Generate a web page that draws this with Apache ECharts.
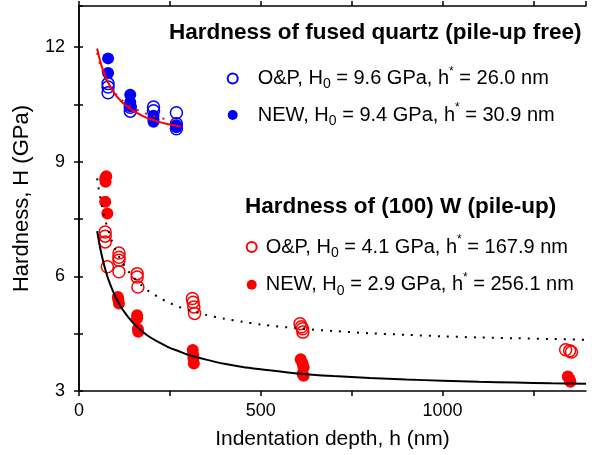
<!DOCTYPE html>
<html style="height: 100%">
<head>
    <meta charset="UTF-8">
    <title>Hardness vs indentation depth</title>
    <script src="https://cdn.jsdelivr.net/npm/echarts/dist/echarts.min.js"></script>
</head>
<body style="height: 100%; margin: 0">
    <div id="main" style="width: 592px; height: 455px"></div>
    <script type="text/javascript">
        // tick labels
        var xLabels = [0, 500, 1000];
        var yLabels = [3, 6, 9, 12];

        // measured points [depth nm, hardness GPa]
        var quartzOP = [
            [80, 11.04], [80, 10.95], [80, 10.80],
            [141, 10.42], [141, 10.32],
            [205, 10.43], [205, 10.33],
            [268, 10.28], [268, 9.99], [268, 9.86]
        ];
        var quartzNEW = [
            [80, 11.70], [80, 11.32],
            [141, 10.75], [141, 10.55], [141, 10.45],
            [205, 10.20], [205, 10.10], [205, 10.04],
            [268, 9.95], [268, 9.90]
        ];
        var tungstenOP = [
            [72, 7.16], [72, 7.05], [72, 6.90], [78, 6.25],
            [110, 6.61], [110, 6.50], [110, 6.42], [110, 6.12],
            [160, 6.07], [160, 5.98], [162, 5.72],
            [312, 5.42], [314, 5.32], [316, 5.20], [318, 5.03],
            [608, 4.76], [612, 4.68], [615, 4.63], [616, 4.54],
            [1339, 4.08], [1350, 4.05], [1355, 4.02]
        ];
        var tungstenNEW = [
            [75, 8.62], [72, 8.55], [73, 8.47], [72, 7.95], [78, 7.64],
            [107, 5.46], [108, 5.40], [110, 5.29],
            [160, 4.98], [160, 4.90], [162, 4.62], [163, 4.55],
            [313, 4.07], [314, 3.95], [315, 3.85], [316, 3.72],
            [610, 3.83], [615, 3.72], [618, 3.62], [615, 3.45], [618, 3.40],
            [1345, 3.38], [1350, 3.30], [1352, 3.24]
        ];

        // fitted curves
        var fitDepthQ = [50, 55, 60, 65, 70, 75, 80, 90, 100, 110, 120, 130, 140, 150, 160, 170, 180, 190, 200, 220, 240, 260, 280];
        var fitQuartzNEW = [11.96, 11.75, 11.57, 11.42, 11.29, 11.17, 11.07, 10.90, 10.75, 10.64, 10.54, 10.46, 10.39, 10.32, 10.27, 10.22, 10.17, 10.13, 10.10, 10.04, 9.99, 9.95, 9.91];
        var fitQuartzOP = [11.84, 11.65, 11.49, 11.36, 11.24, 11.14, 11.05, 10.90, 10.78, 10.68, 10.59, 10.52, 10.45, 10.40, 10.35, 10.31, 10.27, 10.24, 10.21, 10.15, 10.11, 10.07, 10.04];
        var fitDepthW = [50, 55, 60, 65, 70, 75, 80, 90, 100, 110, 120, 130, 140, 150, 160, 180, 200, 225, 250, 275, 300, 350, 400, 450, 500, 600, 700, 800, 900, 1000, 1100, 1200, 1300, 1395];
        var fitTungstenNEW = [7.18, 6.90, 6.66, 6.45, 6.26, 6.09, 5.94, 5.69, 5.47, 5.29, 5.13, 5.00, 4.88, 4.77, 4.68, 4.51, 4.38, 4.25, 4.13, 4.04, 3.95, 3.82, 3.71, 3.63, 3.57, 3.46, 3.39, 3.34, 3.30, 3.27, 3.24, 3.22, 3.20, 3.19];
        var fitTungstenOP = [8.56, 8.25, 7.99, 7.76, 7.56, 7.38, 7.22, 6.94, 6.71, 6.52, 6.35, 6.21, 6.08, 5.97, 5.87, 5.70, 5.56, 5.42, 5.30, 5.20, 5.12, 4.99, 4.89, 4.81, 4.74, 4.64, 4.57, 4.51, 4.47, 4.43, 4.40, 4.38, 4.36, 4.34];

        var legendText = {
            qOP: ['O&P, H', '0', ' = 9.6 GPa, h', '*', ' = 26.0 nm'],
            qNEW: ['NEW, H', '0', ' = 9.4 GPa, h', '*', ' = 30.9 nm'],
            wOP: ['O&P, H', '0', ' = 4.1 GPa, h', '*', ' = 167.9 nm'],
            wNEW: ['NEW, H', '0', ' = 2.9 GPa, h', '*', ' = 256.1 nm']
        };

        function zip(xs, ys) {
            return xs.map(function (x, i) { return [x, ys[i]]; });
        }

        var FONT = '"Liberation Sans", Arial, Helvetica, sans-serif';

        function legendFormatter(pad) {
            return function (name) {
                var t = legendText[name];
                return '{' + pad + '|' + t[0] + '}{sub|' + t[1] + '}{a|' + t[2] + '}{sup|' + t[3] + '}{a|' + t[4] + '}';
            };
        }
        var legendRich = {
            a: { fontSize: 20, fontFamily: FONT, color: '#000', lineHeight: 26 },
            pq: { fontSize: 20, fontFamily: FONT, color: '#000', lineHeight: 26, padding: [0, 0, 0, 15] },
            pw: { fontSize: 20, fontFamily: FONT, color: '#000', lineHeight: 26, padding: [0, 0, 0, 4] },
            sub: { fontSize: 14, fontFamily: FONT, color: '#000', verticalAlign: 'bottom' },
            sup: { fontSize: 12, fontFamily: FONT, color: '#000', verticalAlign: 'top' }
        };

        var chartDom = document.getElementById('main');
        var myChart = echarts.init(chartDom);
        var option;

        var axisLineStyle = { color: '#000', width: 1.5 };

        function scatter(name, data, color, open) {
            return {
                name: name,
                type: 'scatter',
                data: data,
                symbol: 'circle',
                symbolSize: 12,
                itemStyle: open
                    ? { color: 'rgba(255,255,255,0)', borderColor: color, borderWidth: 1.5, opacity: 1 }
                    : { color: color, borderWidth: 0, opacity: 1 },
                z: 2
            };
        }
        function fit(data, color, dotted) {
            return {
                type: 'line',
                data: data,
                smooth: 0.3,
                showSymbol: false,
                symbol: 'none',
                silent: true,
                lineStyle: dotted
                    ? { color: color, width: 2, type: [2, 7] }
                    : { color: color, width: 2 },
                z: 3
            };
        }

        option = {
            animation: false,
            backgroundColor: '#fff',
            grid: { left: 79, right: 6, top: 6, bottom: 64 },
            xAxis: [{
                type: 'value',
                min: 0,
                max: 1395,
                interval: 250,
                name: 'Indentation depth, h (nm)',
                nameLocation: 'middle',
                nameGap: 38,
                nameTextStyle: { fontSize: 21, fontFamily: FONT, color: '#000' },
                axisLine: { show: true, lineStyle: axisLineStyle },
                axisTick: { show: true, inside: false, length: 5, lineStyle: axisLineStyle },
                axisLabel: {
                    fontSize: 18, fontFamily: FONT, color: '#000', margin: 11,
                    showMaxLabel: false,
                    formatter: function (v) { return xLabels.indexOf(v) >= 0 ? String(v) : ''; }
                },
                splitLine: { show: false }
            }, {
                type: 'value',
                position: 'top',
                min: 0,
                max: 1395,
                interval: 250,
                axisLine: { show: true, lineStyle: axisLineStyle },
                axisTick: { show: true, inside: false, length: 5, lineStyle: axisLineStyle },
                axisLabel: { show: false },
                splitLine: { show: false }
            }],
            yAxis: [{
                type: 'value',
                min: 3,
                max: 13.07,
                interval: 1.5,
                name: 'Hardness, H (GPa)',
                nameLocation: 'middle',
                nameGap: 46,
                nameTextStyle: { fontSize: 22, fontFamily: FONT, color: '#000' },
                axisLine: { show: true, lineStyle: axisLineStyle },
                axisTick: { show: true, inside: false, length: 5, lineStyle: axisLineStyle },
                axisLabel: {
                    fontSize: 18, fontFamily: FONT, color: '#000', margin: 14,
                    showMaxLabel: false,
                    formatter: function (v) { return yLabels.indexOf(v) >= 0 ? String(v) : ''; }
                },
                splitLine: { show: false }
            }, {
                type: 'value',
                position: 'right',
                min: 3,
                max: 13.07,
                interval: 1.5,
                axisLine: { show: true, lineStyle: axisLineStyle },
                axisTick: { show: true, inside: false, length: 4, lineStyle: axisLineStyle },
                axisLabel: { show: false },
                splitLine: { show: false }
            }],
            legend: [{
                orient: 'vertical',
                left: 226.7,
                top: 65.5,
                padding: 0,
                itemWidth: 10,
                itemHeight: 10,
                itemGap: 10.5,
                selectedMode: false,
                data: ['qOP', 'qNEW'],
                formatter: legendFormatter('pq'),
                textStyle: { rich: legendRich }
            }, {
                orient: 'vertical',
                left: 245.7,
                top: 234,
                padding: 0,
                itemWidth: 10,
                itemHeight: 10,
                itemGap: 11.7,
                selectedMode: false,
                data: ['wOP', 'wNEW'],
                formatter: legendFormatter('pw'),
                textStyle: { rich: legendRich }
            }],
            graphic: [{
                type: 'text',
                x: 169,
                y: 33,
                style: {
                    text: 'Hardness of fused quartz (pile-up free)',
                    font: 'bold 22.5px ' + FONT,
                    fill: '#000',
                    verticalAlign: 'middle'
                }
            }, {
                type: 'text',
                x: 245,
                y: 207,
                style: {
                    text: 'Hardness of (100) W (pile-up)',
                    font: 'bold 22.5px ' + FONT,
                    fill: '#000',
                    verticalAlign: 'middle'
                }
            }],
            series: [
                scatter('qOP', quartzOP, '#0000ff', true),
                scatter('qNEW', quartzNEW, '#0000ff', false),
                scatter('wOP', tungstenOP, '#ff0000', true),
                scatter('wNEW', tungstenNEW, '#ff0000', false),
                fit(zip(fitDepthQ, fitQuartzOP), '#ff0000', true),
                fit(zip(fitDepthQ, fitQuartzNEW), '#ff0000', false),
                fit(zip(fitDepthW, fitTungstenOP), '#000', true),
                fit(zip(fitDepthW, fitTungstenNEW), '#000', false)
            ]
        };

        myChart.setOption(option);
    </script>
</body>
</html>
